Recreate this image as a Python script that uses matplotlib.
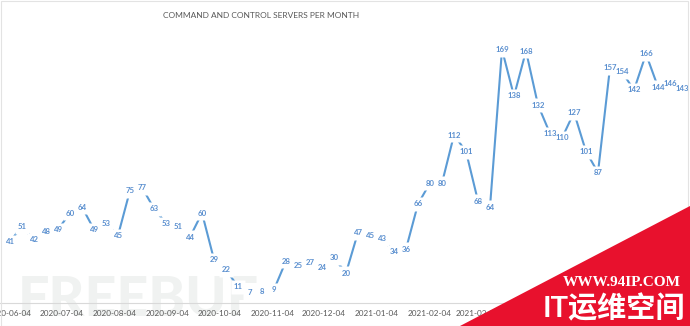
import matplotlib
matplotlib.use("Agg")
import matplotlib.pyplot as plt
import matplotlib.dates as mdates
from matplotlib.patches import Polygon
import pandas as pd

plt.rcParams['font.family'] = ['Lato', 'Noto Sans CJK SC', 'DejaVu Sans']

# weekly counts of C2 servers, starting 2020-06-04
start_date = "2020-06-04"
servers = [41, 51, 42, 48, 49, 60, 64, 49, 53, 45,
           75, 77, 63, 53, 51, 44, 60, 29, 22, 11,
           7, 8, 9, 28, 25, 27, 24, 30, 20, 47,
           45, 43, 34, 36, 66, 80, 80, 112, 101, 68,
           64, 169, 138, 168, 132, 113, 110, 127, 101, 87,
           157, 154, 142, 166, 144, 146, 143]
title = "COMMAND AND CONTROL SERVERS PER MONTH"

dates = pd.date_range(start_date, periods=len(servers), freq="7D")

W, H = 690, 326
fig = plt.figure(figsize=(W / 100, H / 100), dpi=100)
ax = fig.add_axes([0, 23 / H, 1, 270 / H])
ax.set_zorder(1)

blue = "#5B9BD5"
label_blue = "#5A8FCF"
grey_txt = "#595959"

# faint background watermark
fig.text(18 / W, 1 - 300 / H, "FREEBUF", fontsize=40, fontweight="black",
         color="#F0F2F1", va="center", ha="left", zorder=0)

ax.plot(dates, servers, color=blue, lw=1.5, zorder=2, solid_capstyle="round")
for d, v in zip(dates, servers):
    ax.text(d, v, str(v), ha="center", va="center", fontsize=5.6,
            fontweight="bold", color=label_blue, zorder=3,
            bbox=dict(boxstyle="square,pad=0.35", fc="white", ec="none", alpha=0.0))
    ax.plot(d, v, marker="s", ms=10, mfc="white", mec="none", zorder=2.5)

d0 = mdates.date2num(pd.Timestamp(start_date))
px_per_day = 12 / 7
ax.set_xlim(d0 - 10 / px_per_day, d0 + (W - 10) / px_per_day)
ax.set_ylim(0, 180)

ax.xaxis.set_major_locator(mdates.MonthLocator(bymonthday=4))
ax.xaxis.set_major_formatter(mdates.DateFormatter("%Y-%m-%d"))
ax.tick_params(axis="x", length=0, pad=5, labelsize=5.9, labelcolor=grey_txt)
ax.set_yticks([])
for s in ("top", "right", "left"):
    ax.spines[s].set_visible(False)
ax.spines["bottom"].set_color("#D9D9D9")
ax.spines["bottom"].set_linewidth(0.8)
ax.patch.set_alpha(0)

fig.text(261 / W, 1 - 15 / H, title, ha="center", va="center",
         fontsize=6.0, color=grey_txt)

# chart area border
fig.add_artist(Polygon([[1 / W, 0.5 / H], [1 / W, 1 - 0.5 / H], [1 - 2 / W, 1 - 0.5 / H],
                        [1 - 2 / W, 0.5 / H]], closed=True, fill=False,
                       ec="#E3E3E3", lw=0.8, transform=fig.transFigure, zorder=4))

# corner banner
fig.add_artist(Polygon([[460 / W, 0], [1, 120 / H], [1, 0]], closed=True,
                       fc="#E8112D", ec="none", transform=fig.transFigure, zorder=5))
fig.text(622 / W, 1 - 282 / H, "WWW.94IP.COM", ha="center", va="center",
         fontsize=11, fontweight="bold", family=["Liberation Serif", "DejaVu Serif"],
         color="white", zorder=6)
fig.text(614 / W, 1 - 308 / H, "IT运维空间", ha="center", va="center",
         fontsize=21, fontweight="bold", color="white", zorder=6)

fig.savefig("out.png", dpi=100)
